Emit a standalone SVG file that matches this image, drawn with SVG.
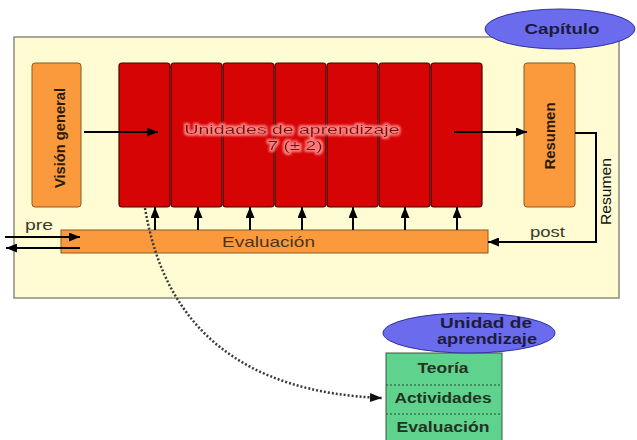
<svg xmlns="http://www.w3.org/2000/svg" width="637" height="440" viewBox="0 0 637 440">
  <style>
    text { font-family: "Liberation Sans", Arial, sans-serif; }
    .frame { fill: #fffbd2; stroke: #8c8c7a; stroke-width: 1.5; }
    .orange { fill: #fb9a3c; stroke: #8a5a20; stroke-width: 1; }
    .unit { fill: #d60404; stroke: #4a0000; stroke-width: 1.2; }
    .oval { fill: #6b6bee; stroke: #3030a0; stroke-width: 1; }
    .oval-t { font-weight: bold; font-size: 15px; fill: #1c1c3c; text-anchor: middle; }
    .lbl { font-size: 15px; fill: #3a3a2a; }
    .vert { font-weight: bold; font-size: 14px; fill: #2a1a0a; text-anchor: middle; }
    .line { stroke: #000; stroke-width: 2; fill: none; }
    .dots { stroke: #3a3a3a; stroke-width: 2.5; stroke-dasharray: 2 2; fill: none; }
    .green { fill: #5fd38d; stroke: #3a5a40; stroke-width: 1; }
    .sep { stroke: #2a4a30; stroke-dasharray: 2 2; stroke-width: 1; }
    .gtxt { font-weight: bold; font-size: 14px; fill: #233323; text-anchor: middle; }
    .utxt { fill: #701010; font-size: 13.5px; text-anchor: middle; }
  </style>
  <defs>
    <marker id="ah" viewBox="0 0 11 9" refX="11" refY="4.5" markerWidth="11" markerHeight="9" markerUnits="userSpaceOnUse" orient="auto">
      <path d="M0,0 L11,4.5 L0,9 z" fill="#000"/>
    </marker>
    <marker id="ahd" viewBox="0 0 12 9" refX="12" refY="4.5" markerWidth="12" markerHeight="9" markerUnits="userSpaceOnUse" orient="auto">
      <path d="M0,0 L12,4.5 L0,9 z" fill="#111"/>
    </marker>
    <!-- pink halo around the unit caption -->
    <filter id="halo" x="-10%" y="-60%" width="120%" height="220%">
      <feMorphology in="SourceAlpha" operator="dilate" radius="1.8" result="wide"/>
      <feFlood flood-color="#ff7f7f"/>
      <feComposite in2="wide" operator="in" result="pink"/>
      <feGaussianBlur in="pink" stdDeviation="1.1" result="soft"/>
      <feMerge>
        <feMergeNode in="soft"/>
        <feMergeNode in="SourceGraphic"/>
      </feMerge>
    </filter>
  </defs>

  <!-- chapter frame -->
  <g id="capitulo">
    <rect class="frame" x="14" y="37" width="605" height="261"/>
    <ellipse class="oval" cx="560" cy="29" rx="75" ry="20"/>
    <text class="oval-t" x="562" y="34" textLength="75" lengthAdjust="spacingAndGlyphs">Capítulo</text>
  </g>

  <g id="vision-general">
    <rect class="orange" x="32" y="63" width="49" height="144" rx="3"/>
    <text class="vert" transform="translate(65,138) rotate(-90)" textLength="100" lengthAdjust="spacingAndGlyphs">Visión general</text>
  </g>

  <g id="unidades">
    <rect class="unit" x="119" y="63" width="51" height="144" rx="3"/>
    <rect class="unit" x="171" y="63" width="51" height="144" rx="3"/>
    <rect class="unit" x="223" y="63" width="51" height="144" rx="3"/>
    <rect class="unit" x="275" y="63" width="51" height="144" rx="3"/>
    <rect class="unit" x="327" y="63" width="51" height="144" rx="3"/>
    <rect class="unit" x="379" y="63" width="51" height="144" rx="3"/>
    <rect class="unit" x="431" y="63" width="51" height="144" rx="3"/>
    <g filter="url(#halo)">
      <text class="utxt" x="292" y="133.5" textLength="215" lengthAdjust="spacingAndGlyphs">Unidades de aprendizaje</text>
      <text class="utxt" x="295" y="150" textLength="55" lengthAdjust="spacingAndGlyphs">7 (± 2)</text>
    </g>
  </g>

  <g id="resumen">
    <rect class="orange" x="524" y="63" width="51" height="144" rx="3"/>
    <text class="vert" transform="translate(555,136) rotate(-90)" textLength="67" lengthAdjust="spacingAndGlyphs">Resumen</text>
  </g>

  <g id="evaluacion">
    <rect class="orange" x="61" y="230" width="427" height="23"/>
    <text class="lbl" x="222" y="247" textLength="93" lengthAdjust="spacingAndGlyphs" style="fill:#4a3520">Evaluación</text>
  </g>

  <!-- connectors -->
  <g id="connectors">
    <line class="line" x1="84" y1="132" x2="158" y2="132" marker-end="url(#ah)"/>
    <line class="line" x1="454" y1="132" x2="527" y2="132" marker-end="url(#ah)"/>
    <polyline class="line" points="575,133 596,133 596,242 488,242" marker-end="url(#ah)"/>
    <line class="line" x1="155" y1="230" x2="155" y2="207" marker-end="url(#ah)"/>
    <line class="line" x1="198" y1="230" x2="198" y2="207" marker-end="url(#ah)"/>
    <line class="line" x1="250" y1="230" x2="250" y2="207" marker-end="url(#ah)"/>
    <line class="line" x1="302" y1="230" x2="302" y2="207" marker-end="url(#ah)"/>
    <line class="line" x1="353" y1="230" x2="353" y2="207" marker-end="url(#ah)"/>
    <line class="line" x1="405" y1="230" x2="405" y2="207" marker-end="url(#ah)"/>
    <line class="line" x1="457" y1="230" x2="457" y2="207" marker-end="url(#ah)"/>
    <line class="line" x1="5" y1="237" x2="80" y2="237" marker-end="url(#ah)"/>
    <line class="line" x1="80" y1="248" x2="6" y2="248" marker-end="url(#ah)"/>
    <path class="dots" d="M145,208 Q175,390 382,398" marker-end="url(#ahd)"/>
    <text class="lbl" x="25" y="230" textLength="28" lengthAdjust="spacingAndGlyphs">pre</text>
    <text class="lbl" x="530" y="237" textLength="35" lengthAdjust="spacingAndGlyphs">post</text>
    <text class="lbl" transform="translate(611,191.5) rotate(-90)" text-anchor="middle" textLength="67" lengthAdjust="spacingAndGlyphs" style="fill:#111">Resumen</text>
  </g>

  <g id="unidad-detalle">
    <rect class="green" x="386" y="353" width="116" height="92"/>
    <line class="sep" x1="386" y1="385" x2="502" y2="385"/>
    <line class="sep" x1="386" y1="414" x2="502" y2="414"/>
    <text class="gtxt" x="443" y="373" textLength="51" lengthAdjust="spacingAndGlyphs">Teoría</text>
    <text class="gtxt" x="443" y="403" textLength="97" lengthAdjust="spacingAndGlyphs">Actividades</text>
    <text class="gtxt" x="443" y="432" textLength="93" lengthAdjust="spacingAndGlyphs">Evaluación</text>
    <ellipse class="oval" cx="469" cy="333" rx="86" ry="20"/>
    <text class="oval-t" x="486" y="328" textLength="92" lengthAdjust="spacingAndGlyphs">Unidad de</text>
    <text class="oval-t" x="487" y="344" textLength="100" lengthAdjust="spacingAndGlyphs">aprendizaje</text>
  </g>
</svg>
